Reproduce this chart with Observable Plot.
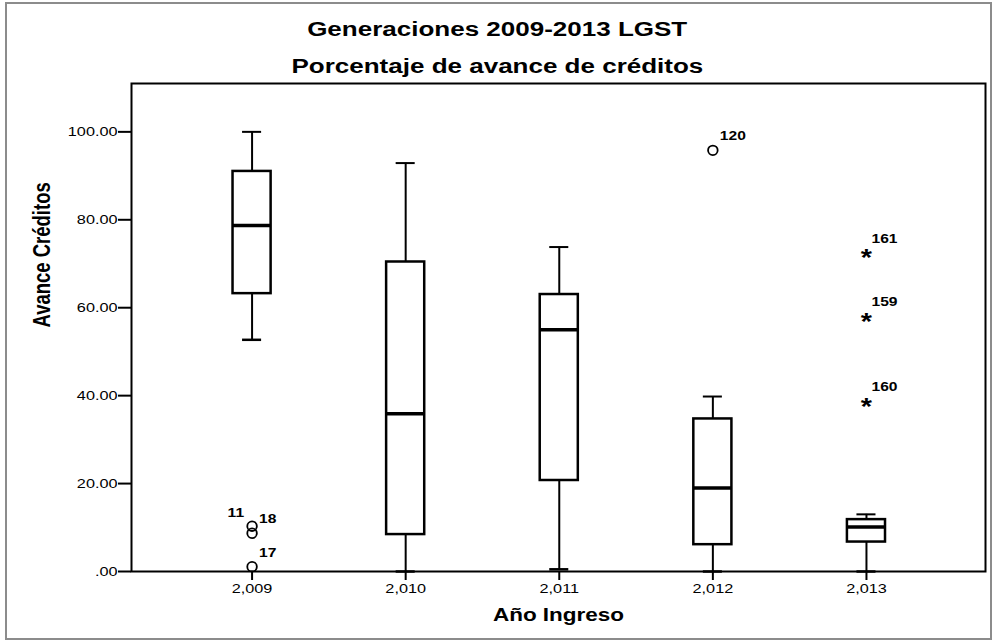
<!DOCTYPE html>
<html>
<head>
<meta charset="utf-8">
<script src="https://cdn.jsdelivr.net/npm/d3@7"></script>
<script src="https://cdn.jsdelivr.net/npm/@observablehq/plot@0.6"></script>
<style>
  html, body { margin: 0; padding: 0; background: #fff; }
  #page { position: relative; width: 994px; height: 642px; overflow: hidden; font-family: "Liberation Sans", Arial, sans-serif; }
  #border { position: absolute; left: 5px; top: 2px; width: 983px; height: 634px; border: 2px solid #8c8c8c; pointer-events: none; }
  #header { position: relative; height: 80px; width: 994px; }
  .ttl { position: absolute; left: 0; width: 994px; text-align: center; font-weight: bold; font-size: 20px; line-height: 20px; color: #000; }
  .ttl span { display: inline-block; transform: scaleX(1.3); transform-origin: center; }
  #chart svg { display: block; }
</style>
</head>
<body>
<div id="page">
  <div id="header">
    <div class="ttl" style="top:19px"><span>Generaciones 2009-2013 LGST</span></div>
    <div class="ttl" style="top:56px"><span>Porcentaje de avance de créditos</span></div>
  </div>
  <div id="chart"></div>
  <div id="border"></div>
</div>
<script>
// Box statistics per entry year
const years   = [2009, 2010, 2011, 2012, 2013];
const mins    = [52.7, 0,    0.5,  0,    0];
const q1s     = [63.2, 8.4,  20.7, 6.1,  6.7];
const medians = [78.7, 35.9, 55.0, 19.0, 10.1];
const q3s     = [91.0, 70.4, 63.0, 34.7, 11.8];
const maxs    = [100,  92.9, 73.8, 39.8, 13.0];

// Outliers (circles)
const outlierYears  = [2009, 2009, 2009, 2012];
const outlierValues = [10.3, 8.7,  1.1,  95.8];
const outlierIds    = ["11", "18", "17", "120"];
const outlierSide   = ["left", "right", "right", "right"];

// Extremes (stars)
const extremeYears  = [2013, 2013, 2013];
const extremeValues = [72.3, 57.8, 38.5];
const extremeIds    = ["161", "159", "160"];

const yTicks = [0, 20, 40, 60, 80, 100];

const boxes = years.map((year, i) => ({year, min: mins[i], q1: q1s[i], median: medians[i], q3: q3s[i], max: maxs[i]}));
const outliers = outlierYears.map((year, i) => ({year, value: outlierValues[i], id: outlierIds[i], side: outlierSide[i]}));
const extremes = extremeYears.map((year, i) => ({year, value: extremeValues[i], id: extremeIds[i]}));

const halfBox = 0.124, halfCap = 0.062;

const chart = Plot.plot({
  width: 994,
  height: 562,
  marginTop: 3,
  marginBottom: 71,
  marginLeft: 131,
  marginRight: 9,
  style: {fontFamily: "'Liberation Sans', Arial, sans-serif", fontSize: "13px", color: "#000", background: "transparent"},
  x: {domain: [2008.215, 2013.775]},
  y: {domain: [0, 111]},
  marks: [
    // whiskers
    Plot.ruleX(boxes, {x: "year", y1: "q3", y2: "max", stroke: "#000", strokeWidth: 2}),
    Plot.ruleX(boxes, {x: "year", y1: "min", y2: "q1", stroke: "#000", strokeWidth: 2}),
    Plot.ruleY(boxes, {y: "max", x1: d => d.year - halfCap, x2: d => d.year + halfCap, stroke: "#000", strokeWidth: 2}),
    Plot.ruleY(boxes, {y: "min", x1: d => d.year - halfCap, x2: d => d.year + halfCap, stroke: "#000", strokeWidth: 2.5}),
    // boxes
    Plot.rect(boxes, {x1: d => d.year - halfBox, x2: d => d.year + halfBox, y1: "q1", y2: "q3", fill: "#fff", stroke: "#000", strokeWidth: 2.5}),
    Plot.ruleY(boxes, {y: "median", x1: d => d.year - halfBox, x2: d => d.year + halfBox, stroke: "#000", strokeWidth: 3.5}),
    // frame & axes
    Plot.frame({stroke: "#000", strokeWidth: 2}),
    Plot.axisY({ticks: yTicks, tickFormat: d => d === 0 ? ".00" : d.toFixed(2), tickSize: 13, tickPadding: 1, strokeWidth: 2, label: null, fontSize: 13}),
    Plot.axisX({ticks: years, tickFormat: d3.format(","), tickSize: 9, tickPadding: 3, strokeWidth: 2, label: null, fontSize: 13}),
    // outliers
    Plot.dot(outliers, {x: "year", y: "value", r: 4.8, stroke: "#000", strokeWidth: 1.8, fill: "none"}),
    Plot.text(outliers.filter(d => d.side === "right"), {x: "year", y: "value", text: "id", textAnchor: "start", dx: 7, dy: -14, fontSize: 12.5, fontWeight: "bold"}),
    Plot.text(outliers.filter(d => d.side === "left"), {x: "year", y: "value", text: "id", textAnchor: "end", dx: -8, dy: -13, fontSize: 12.5, fontWeight: "bold"}),
    // extremes
    Plot.text(extremes, {x: "year", y: "value", text: () => "*", fontSize: 23, fontWeight: "bold", dy: 5}),
    Plot.text(extremes, {x: "year", y: "value", text: "id", textAnchor: "start", dx: 5, dy: -15, fontSize: 12.5, fontWeight: "bold"}),
    // axis titles
    Plot.text(["Avance Créditos"], {frameAnchor: "left", dx: -89, rotate: -90, fontSize: 18.5, fontWeight: "bold"}),
    Plot.text(["Año Ingreso"], {frameAnchor: "bottom", dy: 49, fontSize: 18, fontWeight: "bold"})
  ]
});

// horizontal stretch of glyphs, as in the reference rendering
d3.select(chart).selectAll("text").each(function() {
  const t = d3.select(this);
  let tr = t.attr("transform");
  if (!tr) {
    const x = t.attr("x") || 0, y = t.attr("y") || 0;
    t.attr("x", null).attr("y", null);
    tr = `translate(${x},${y})`;
  }
  if (tr.includes("rotate")) t.attr("transform", tr + " scale(1,1.28)");
  else t.attr("transform", tr + " scale(1.25,1)");
});

document.getElementById("chart").appendChild(chart);
</script>
</body>
</html>
